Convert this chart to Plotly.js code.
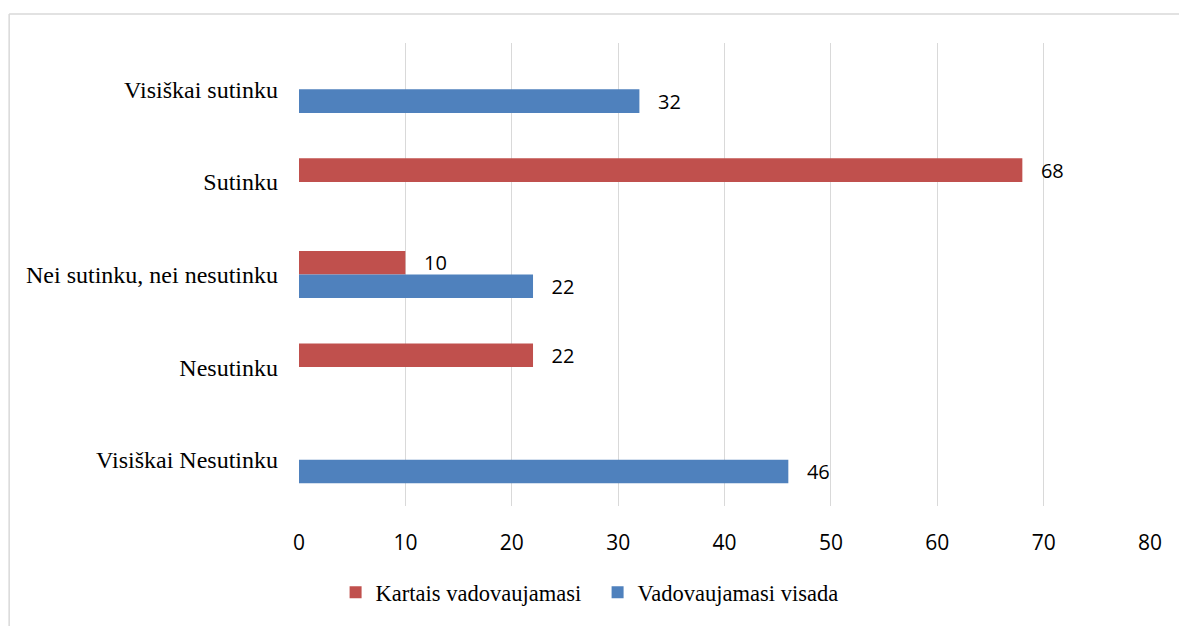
<!DOCTYPE html>
<html>
<head>
<meta charset="utf-8">
<script src="https://cdn.plot.ly/plotly-3.0.1.min.js"></script>
<style>
  html, body { margin: 0; padding: 0; background: #ffffff; }
  #chart { width: 1179px; height: 626px; }
</style>
</head>
<body>
<div id="chart"></div>
<script>
// Categories, listed top to bottom as in the picture
const categories = [
  "Visiškai sutinku",
  "Sutinku",
  "Nei sutinku, nei nesutinku",
  "Nesutinku",
  "Visiškai Nesutinku"
];
const seriesNames = ["Kartais vadovaujamasi", "Vadovaujamasi visada"];
// null = no bar in the original
const kartaisValues = [null, 68, 10, 22, null];
const visadaValues  = [32, null, 22, null, 46];
const xTicks = [0, 10, 20, 30, 40, 50, 60, 70, 80];

const colRed = "#C0504D";
const colBlue = "#4F81BD";
const serif = "Liberation Serif, Times New Roman, serif";
const sans = "Open Sans, Liberation Sans, sans-serif";

function barTrace(name, values, color) {
  return {
    type: "bar",
    orientation: "h",
    name: name,
    y: categories,
    x: values,
    marker: { color: color },
    texttemplate: "   %{x}",
    textposition: "outside",
    constraintext: "none",
    cliponaxis: false,
    textfont: { family: sans, size: 20, color: "#000000" },
    hoverinfo: "x+name"
  };
}

const data = [
  barTrace(seriesNames[0], kartaisValues, colRed),
  barTrace(seriesNames[1], visadaValues, colBlue)
];

const layout = {
  width: 1179,
  height: 626,
  margin: { l: 298.5, r: 29, t: 42.5, b: 113, pad: 0 },
  paper_bgcolor: "#ffffff",
  plot_bgcolor: "#ffffff",
  barmode: "group",
  bargap: 0.49,
  bargroupgap: 0,
  showlegend: true,
  legend: {
    orientation: "h",
    traceorder: "normal",
    x: 0.043, xanchor: "left",
    y: -0.187, yanchor: "middle",
    entrywidth: 217,
    font: { family: serif, size: 22.5, color: "#000000" },
    bgcolor: "rgba(0,0,0,0)"
  },
  xaxis: {
    range: [0, 80],
    tickvals: xTicks,
    ticktext: xTicks.map(String),
    showgrid: true,
    gridcolor: "#d9d9d9",
    gridwidth: 1,
    zeroline: false,
    showline: false,
    ticks: "",
    ticklabelstandoff: 22,
    tickfont: { family: sans, size: 21, color: "#000000" },
    fixedrange: true
  },
  yaxis: {
    type: "category",
    autorange: "reversed",
    showgrid: false,
    zeroline: false,
    showline: false,
    ticks: "",
    ticklabelstandoff: 20,
    tickfont: { family: serif, size: 24, color: "#000000" },
    fixedrange: true
  },
  shapes: [
    { type: "line", xref: "paper", yref: "paper",
      x0: -0.3406, x1: 1.05, y0: 1.0628, y1: 1.0628,
      line: { color: "#d9d9d9", width: 1.5 } },
    { type: "line", xref: "paper", yref: "paper",
      x0: -0.3406, x1: -0.3406, y0: -0.3, y1: 1.0628,
      line: { color: "#d9d9d9", width: 1.5 } }
  ]
};

Plotly.newPlot("chart", data, layout, { displayModeBar: false, staticPlot: true });
</script>
</body>
</html>
